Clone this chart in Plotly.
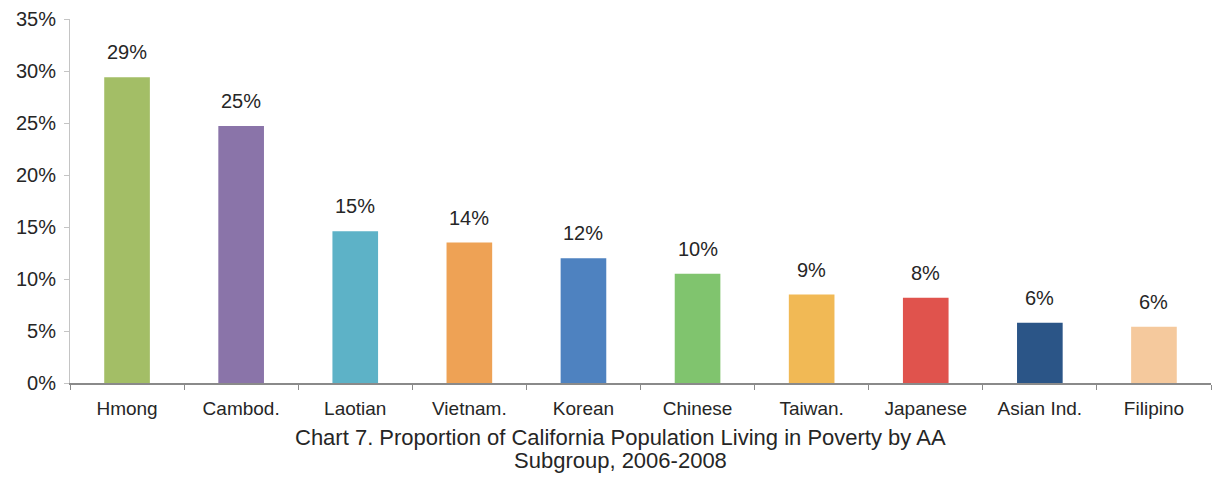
import plotly.graph_objects as go

categories = ["Hmong", "Cambod.", "Laotian", "Vietnam.", "Korean", "Chinese",
              "Taiwan.", "Japanese", "Asian Ind.", "Filipino"]
values = [29.4, 24.7, 14.6, 13.5, 12.0, 10.5, 8.5, 8.2, 5.8, 5.4]
labels = ["29%", "25%", "15%", "14%", "12%", "10%", "9%", "8%", "6%", "6%"]
colors = ["#A3BE66", "#8A74A9", "#5DB2C7", "#EEA255", "#4E82C0", "#80C46E",
          "#F1B955", "#E0534D", "#2B5587", "#F5C99D"]
y_ticks = [0, 5, 10, 15, 20, 25, 30, 35]
y_tick_labels = ["0%", "5%", "10%", "15%", "20%", "25%", "30%", "35%"]
title_lines = ["Chart 7. Proportion of California Population Living in Poverty by AA",
               "Subgroup, 2006-2008"]

FONT = "Liberation Sans, Arial, sans-serif"
TXT = "#262626"

fig = go.Figure()
fig.add_trace(go.Bar(
    x=categories, y=values, marker=dict(color=colors, line=dict(width=0)),
    width=0.4, showlegend=False, hoverinfo="skip",
))

for c, v, t in zip(categories, values, labels):
    fig.add_annotation(x=c, y=v, text=t, showarrow=False, yanchor="bottom",
                       yshift=12, font=dict(family=FONT, size=20, color=TXT))

for i, line in enumerate(title_lines):
    fig.add_annotation(xref="paper", yref="paper", x=0.5, y=0, yanchor="middle",
                       xshift=-20, yshift=-54 - 23 * i, text=line, showarrow=False,
                       font=dict(family=FONT, size=22, color=TXT))

fig.update_layout(
    width=1219, height=489,
    margin=dict(l=70, r=8, t=16, b=106),
    paper_bgcolor="white", plot_bgcolor="white",
    bargap=0.6,
    font=dict(family=FONT, size=19, color=TXT),
    xaxis=dict(showline=True, linecolor="#8a8a8a", linewidth=2,
               ticks="outside", tickson="boundaries", ticklen=5, tickcolor="#8a8a8a",
               ticklabelstandoff=7,
               showgrid=False, tickfont=dict(size=19, color=TXT)),
    yaxis=dict(range=[0, 35], tickvals=y_ticks, ticktext=y_tick_labels,
               showline=True, linecolor="#c4c4c4", linewidth=1,
               ticks="outside", ticklen=5, tickcolor="#c4c4c4",
               ticklabelstandoff=4, ticklabeloverflow="allow",
               showgrid=False, zeroline=False,
               tickfont=dict(size=20, color=TXT)),
)

fig.write_html("out.html", config={"displayModeBar": False},
               post_script="document.body.style.margin='0px';")
